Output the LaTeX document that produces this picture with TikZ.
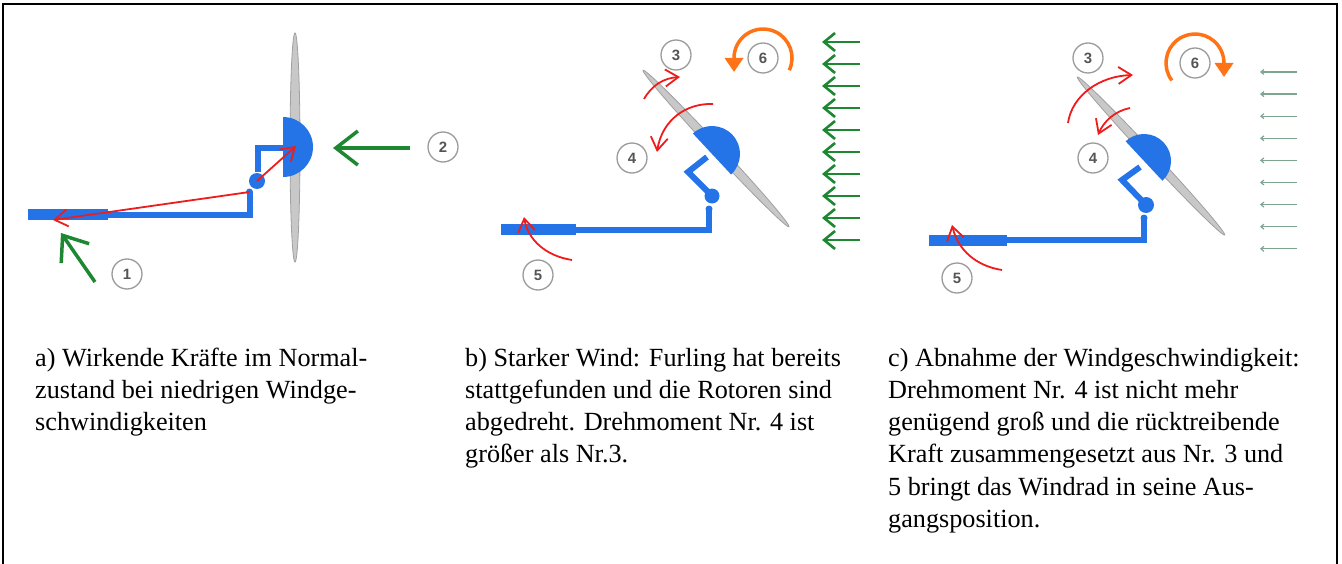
\documentclass[tikz,border=0pt]{standalone}
\usepackage{fontspec}
\setmainfont{Liberation Serif}
\setsansfont{Liberation Sans}
\usetikzlibrary{arrows.meta}

\definecolor{hubblue}{RGB}{36,116,232}
\definecolor{bladefill}{RGB}{200,200,200}
\definecolor{bladeedge}{RGB}{160,160,160}
\definecolor{forcered}{RGB}{240,28,28}
\definecolor{windgreen}{RGB}{30,135,50}
\definecolor{windpale}{RGB}{125,165,145}
\definecolor{turnorange}{RGB}{255,115,22}
\definecolor{labelgray}{RGB}{155,155,155}
\definecolor{labeltext}{RGB}{85,85,85}

\begin{document}
\begin{tikzpicture}[x=1bp,y=-1bp,
  tailvane/.style={hubblue, line width=11bp},
  boom/.style={hubblue, line width=6bp, line join=miter},
  joint/.style={fill=hubblue},
  blade/.style={fill=bladefill, draw=bladeedge, line width=0.8bp},
  hub/.style={fill=hubblue},
  force/.style={forcered, line width=1.8bp,
    -{Straight Barb[length=13bp,width=17bp]}},
  bigwind/.style={windgreen, line width=3.5bp,
    -{Straight Barb[length=22bp,width=34bp]}},
  wind/.style={windgreen, line width=2.6bp,
    -{Straight Barb[length=11bp,width=18bp]}},
  palewind/.style={windpale, line width=1.2bp,
    -{Straight Barb[length=3bp,width=5bp]}},
  turn/.style={turnorange, line width=3.5bp,
    -{Triangle[length=14bp,width=18bp]}},
  numlabel/.style={circle, draw=labelgray, line width=1.3bp, fill=white,
    minimum size=30bp, inner sep=0pt, text=labeltext,
    font=\sffamily\bfseries\fontsize{15}{15}\selectfont},
  caption/.style={anchor=base west, inner sep=0pt,
    font=\fontsize{26.3}{32.3}\selectfont}
]
\useasboundingbox (0,0) rectangle (1342,564);

% outer frame (open at the bottom edge of the page)
\draw[line width=1.2bp] (3,600) -- (3,4) -- (1337,4) -- (1337,600);

% ---------------- a) normal operation ----------------
\coordinate (aPivot) at (257,181);
\coordinate (aKnee)  at (249.5,192);
\coordinate (aHubC)  at (283,147);
\coordinate (aTip)   at (53,220);
\fill[blade] (295,147.5) ellipse [x radius=5, y radius=114.5];
\draw[tailvane] (28,214.5) -- (108,214.5);
\draw[boom] (108,215) -- (249.5,215) -- (aKnee);
\draw[boom] (258,172) -- (258,148) -- (285,148);
\fill[joint] (aKnee) circle [radius=3.5];
\fill[joint] (aPivot) circle [radius=8];
\fill[hub] (aHubC) ++(90:30) arc [start angle=90, end angle=-90, radius=30] -- cycle;
\draw[force] (aKnee) -- (aTip);
\draw[force] (aPivot) -- (296,146);
\coordinate (aW1s) at (95,282);
\coordinate (aW1e) at (61,233);
\coordinate (aW2s) at (410,148);
\coordinate (aW2e) at (333,148);
\draw[bigwind] (aW1s) -- (aW1e);
\draw[bigwind] (aW2s) -- (aW2e);
\node[numlabel] (a1) at (127,274) {1};
\node[numlabel] (a2) at (443,147) {2};

% ---------------- b) strong wind, rotor furled ----------------
\coordinate (bPivot) at (712,196);
\coordinate (bKnee)  at (709,209);
\coordinate (bElbow) at (688,172);
\coordinate (bHubC)  at (712,154);
\fill[blade, rotate around={-47:(716,148.5)}] (716,148.5) ellipse [x radius=107, y radius=4.5];
\draw[tailvane] (501,229.5) -- (576,229.5);
\draw[boom] (576,229.5) -- (709,229.5) -- (bKnee);
\draw[boom] (bPivot) -- (bElbow) -- (707,157);
\fill[joint] (bKnee) circle [radius=3.5];
\fill[joint] (bPivot) circle [radius=7.5];
\fill[hub] (bHubC) ++(47:28) arc [start angle=47, end angle=-133, radius=28] -- cycle;
\draw[force] (644,99) .. controls (652,85) and (664,78) .. (680,77);
\draw[force] (713,104) .. controls (686,103) and (662,120) .. (657,152);
\draw[force] (572,260) .. controls (546,256) and (528,240) .. (524,217);
\coordinate (bTurnC) at (763,58);
\draw[turn] (bTurnC) ++(25:29) arc [start angle=25, end angle=-180, radius=29] -- ++(0,14);
\foreach \k in {0,...,9}
  \draw[wind] (860,42+22*\k) -- (822,42+22*\k);
\node[numlabel] (b3) at (676,55) {3};
\node[numlabel] (b4) at (632,158) {4};
\node[numlabel] (b5) at (538,275) {5};
\node[numlabel] (b6) at (bTurnC) {6};

% ---------------- c) wind dropping, rotor returns ----------------
\coordinate (cPivot) at (1146,205);
\coordinate (cKnee)  at (1144,218);
\coordinate (cElbow) at (1122,180);
\coordinate (cHubC)  at (1144,161);
\fill[blade, rotate around={-47:(1151,156)}] (1151,156) ellipse [x radius=108, y radius=4.5];
\draw[tailvane] (929,240) -- (1007,240);
\draw[boom] (1007,240) -- (1144,240) -- (cKnee);
\draw[boom] (cPivot) -- (cElbow) -- (1140,167);
\fill[joint] (cKnee) circle [radius=3.5];
\fill[joint] (cPivot) circle [radius=8];
\fill[hub] (cHubC) ++(47:27) arc [start angle=47, end angle=-133, radius=27] -- cycle;
\draw[force] (1068,123) .. controls (1072,95) and (1100,76) .. (1133,75);
\draw[force] (1130,108) .. controls (1115,111) and (1104,121) .. (1098,135);
\draw[force] (1002,270) .. controls (976,266) and (958,250) .. (952,225);
\coordinate (cTurnC) at (1195,63);
\draw[turn] (cTurnC) ++(143:29) arc [start angle=143, end angle=360, radius=29] -- ++(0,14);
\foreach \k in {0,...,8}
  \draw[palewind] (1297,72+22.1*\k) -- (1260,72+22.1*\k);
\node[numlabel] (c3) at (1088,58) {3};
\node[numlabel] (c4) at (1093,158) {4};
\node[numlabel] (c5) at (957,278) {5};
\node[numlabel] (c6) at (cTurnC) {6};

% ---------------- captions ----------------
\node[caption] (ta1) at (35,366) {a) Wirkende Kräfte im Normal-};
\node[caption] (ta2) at (35,398.3) {zustand bei niedrigen Windge-};
\node[caption] (ta3) at (35,430.6) {schwindigkeiten};

\node[caption] (tb1) at (465,366) {b) Starker Wind: Furling hat bereits};
\node[caption] (tb2) at (465,398.3) {stattgefunden und die Rotoren sind};
\node[caption] (tb3) at (465,430.6) {abgedreht. Drehmoment Nr. 4 ist};
\node[caption] (tb4) at (465,462.9) {größer als Nr.3.};

\node[caption] (tc1) at (888,366) {c) Abnahme der Windgeschwindigkeit:};
\node[caption] (tc2) at (888,398.3) {Drehmoment Nr. 4 ist nicht mehr};
\node[caption] (tc3) at (888,430.6) {genügend groß und die rücktreibende};
\node[caption] (tc4) at (888,462.9) {Kraft zusammengesetzt aus Nr. 3 und};
\node[caption] (tc5) at (888,495.2) {5 bringt das Windrad in seine Aus-};
\node[caption] (tc6) at (888,527.5) {gangsposition.};
\end{tikzpicture}
\end{document}
